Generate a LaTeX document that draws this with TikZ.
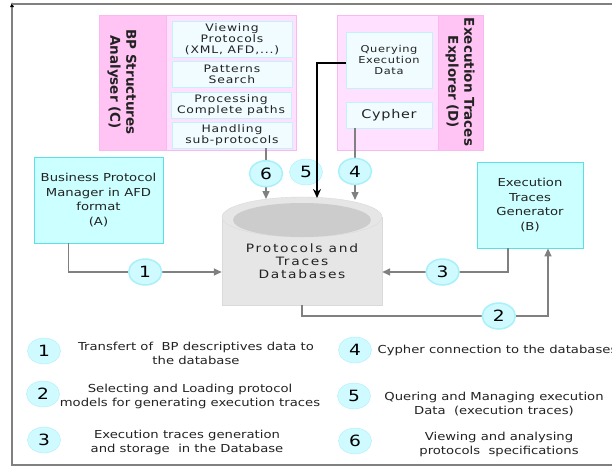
\documentclass[tikz,border=0pt]{standalone}
\usepackage{fontspec}
\setmainfont{DejaVu Sans}[FakeStretch=1.2]
\newfontfamily\titlefont{DejaVu Sans}
\usetikzlibrary{arrows.meta,shapes.geometric,calc}
\definecolor{BoxCyan}{HTML}{CCFFFF}
\definecolor{BoxEdge}{HTML}{5EDEE6}
\definecolor{SubFill}{HTML}{F0FCFF}
\definecolor{SubEdge}{HTML}{C4F0FA}
\definecolor{PinkLight}{HTML}{FFE0FF}
\definecolor{PinkStrip}{HTML}{FFC4F4}
\definecolor{PinkEdge}{HTML}{F8B8F0}
\definecolor{NumFill}{HTML}{CFFAFF}
\definecolor{NumEdge}{HTML}{A8F0FA}
\definecolor{LineGray}{HTML}{808080}
\definecolor{DbBody}{HTML}{E6E6E6}
\definecolor{DbEdge}{HTML}{DADADA}
\definecolor{DbTop}{HTML}{CCCCCC}
\definecolor{TextGray}{HTML}{222222}

\begin{document}
\begin{tikzpicture}[x=1pt,y=-1pt,
    box/.style={draw=BoxEdge,fill=BoxCyan,thick,align=center,text=TextGray,inner sep=0pt,
        font=\fontsize{11}{14.5}\selectfont},
    subbox/.style={draw=SubEdge,fill=SubFill,thick,align=center,text=TextGray,inner sep=0pt,
        minimum width=120pt,font=\fontsize{10.3}{11}\selectfont\addfontfeatures{LetterSpace=8}},
    title/.style={align=center,rotate=-90,text=TextGray,font=\titlefont\bfseries\fontsize{13.5}{16}\selectfont},
    num/.style={ellipse,draw=NumEdge,fill=NumFill,inner sep=0pt,minimum width=33pt,minimum height=26pt,
        font=\fontsize{15.5}{15.5}\selectfont},
    legend/.style={align=center,text=TextGray,font=\fontsize{11}{14}\selectfont},
    conn/.style={draw=LineGray,line width=1.5pt,-{Triangle[length=8pt,width=7pt]}},
    frame/.style={draw=LineGray,line width=1.5pt}]
    \useasboundingbox (0,0) rectangle (612,469);

    % frame
    \draw[frame,-{Latex[color=black,length=5pt,width=4pt]}] (620,465) -- (12,465) -- (12,2);
    \draw[frame] (12,4) -- (620,4);

    % BP structures analyser (C)
    \draw[draw=PinkEdge,fill=PinkLight] (99,15) rectangle (296,150);
    \draw[draw=PinkEdge,fill=PinkStrip] (99,15) rectangle (166,150);
    \node[title] (bpa) at (122,82) {BP Structures\\Analyser (C)};
    \node[subbox,minimum height=36pt] (vp) at (232,39) {Viewing\\Protocols\\(XML, AFD,...)};
    \node[subbox,minimum height=26pt] (ps) at (232,74) {Patterns\\Search};
    \node[subbox,minimum height=26pt] (pc) at (231,105) {Processing\\Complete paths};
    \node[subbox,minimum height=26pt] (hs) at (232,135) {Handling\\sub-protocols};

    % execution traces explorer (D)
    \draw[draw=PinkEdge,fill=PinkLight] (337,15) rectangle (483,150);
    \draw[draw=PinkEdge,fill=PinkStrip] (438,15) rectangle (483,150);
    \node[title] (ete) at (460,82) {Execution Traces\\Explorer (D)};
    \node[subbox,minimum width=86pt,minimum height=56pt,font=\fontsize{9.5}{11}\selectfont\addfontfeatures{LetterSpace=7}] (qed) at (389,60) {Querying\\Execution\\Data};
    \node[subbox,minimum width=86pt,minimum height=26pt,font=\fontsize{12}{13}\selectfont\addfontfeatures{LetterSpace=6}] (cy) at (389,115) {Cypher};

    % A and B
    \node[box,minimum width=129pt,minimum height=86pt] (bpm) at (98.5,200) {Business Protocol\\Manager in AFD\\format\\(A)};
    \node[box,minimum width=106pt,minimum height=86pt] (gen) at (530,205) {Execution\\Traces\\Generator\\(B)};

    % database
    \draw[draw=DbEdge,fill=DbBody] (222,217) -- (222,305) -- (382,305) -- (382,217);
    \draw[draw=DbEdge,fill=DbBody] (302,217) ellipse [x radius=80,y radius=20];
    \fill[DbTop] (302,220) ellipse [x radius=69,y radius=17];
    \node[align=center,text=TextGray,minimum width=160pt,minimum height=88pt,inner sep=0pt,
        font=\fontsize{11.5}{13}\selectfont\addfontfeatures{LetterSpace=15}] (db) at (302,261) {Protocols and\\Traces\\Databases};
    \coordinate (t6) at (266,199);
    \coordinate (t5) at (317,198);
    \coordinate (t4) at (355,200);
    \coordinate (c2) at (548,316);

    % connectors
    \draw[conn] ([xshift=-30pt]bpm.south) |- node[num,pos=0.75] (n1) {1} ([yshift=-11pt]db.west);
    \draw[conn] ([xshift=-22pt]gen.south) |- node[num,pos=0.76] (n3) {3} ([yshift=-11pt]db.east);
    \draw[conn] (db.south) |- node[num,pos=0.9] (n2) {2} (c2) -- ([xshift=18pt]gen.south);
    \draw[conn] ([xshift=34pt]hs.south) -- node[num] (n6) {6} (t6);
    \draw[conn] ([xshift=-34pt]cy.south) -- node[num,pos=0.6] (n4) {4} (t4);
    \node[num] (n5) at (306,172) {5};
    \draw[black,line width=1.5pt,-{Stealth[length=9pt,width=8pt]}] ([yshift=-3pt]qed.west) -| (t5);

    % legend
    \node[num] (k1) at (44,351) {1};
    \node[num] (k2) at (43,394) {2};
    \node[num] (k3) at (44,440) {3};
    \node[num] (k4) at (355,350) {4};
    \node[num] (k5) at (354,396) {5};
    \node[num] (k6) at (355,441) {6};
    \node[legend] (l1) at (196,353) {Transfert of\ \ BP descriptives data to\\the database};
    \node[legend] (l2) at (190,396) {Selecting and Loading protocol\\models for generating execution traces};
    \node[legend] (l3) at (187,442) {Execution traces generation\\and storage\ \ in the Database};
    \node[legend,anchor=west] (l4) at (374,350) {Cypher connection to the databases};
    \node[legend] (l5) at (494,404) {Quering and Managing execution\\Data\ \ (execution traces)};
    \node[legend] (l6) at (499,444) {Viewing and analysing\\protocols\ \ specifications};
\end{tikzpicture}
\end{document}
